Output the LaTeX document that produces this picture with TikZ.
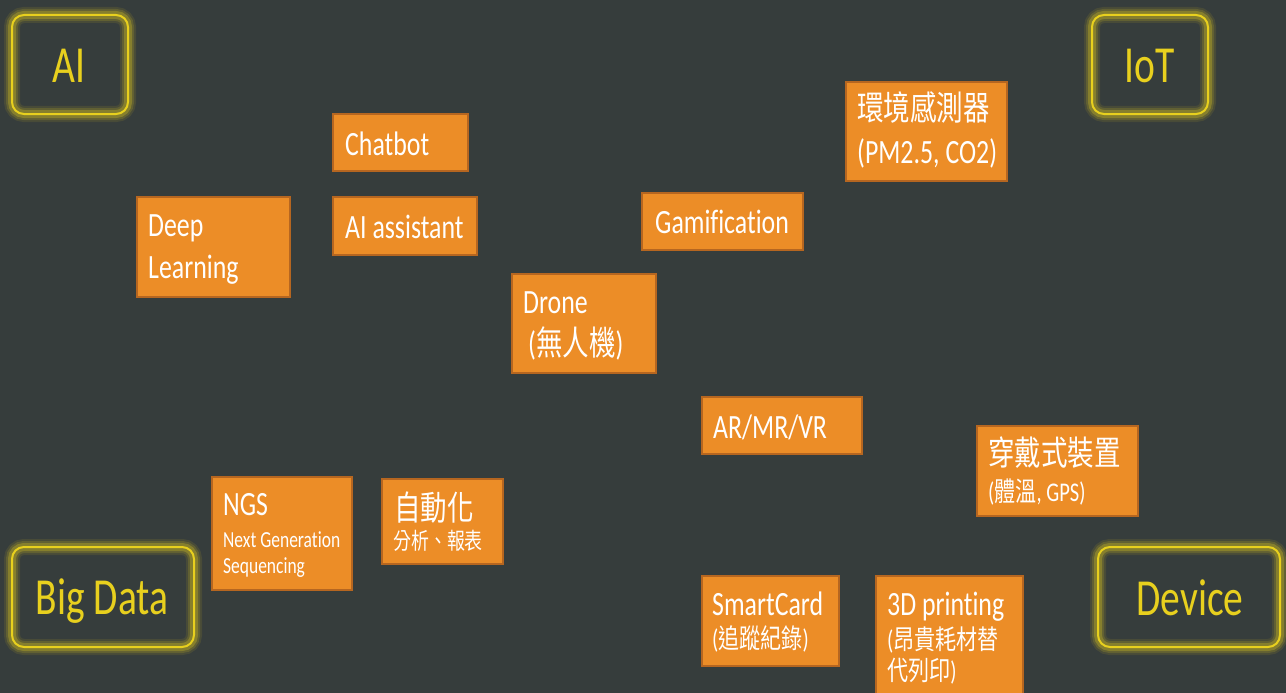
\documentclass[tikz,border=0pt]{standalone}
\usepackage{fontspec}
\setmainfont{Carlito}[FakeStretch=0.76, Ligatures=NoCommon]
\newfontfamily\cjk{Noto Sans CJK TC}[FakeStretch=0.78]
\definecolor{bgc}{RGB}{54,61,60}
\definecolor{ofill}{RGB}{236,141,39}
\definecolor{oborder}{RGB}{182,102,32}
\definecolor{yel}{RGB}{232,208,30}
\begin{document}
\begin{tikzpicture}[x=1pt,y=-1pt,
  obox/.style={draw=oborder, fill=ofill, line width=1.3pt, inner sep=0pt, rectangle},
  otext/.style={anchor=base west, inner sep=0pt, text=white, font=\fontsize{34}{40}\selectfont},
  omid/.style={otext, font=\fontsize{27}{32}\selectfont},
  osmall/.style={otext, font=\fontsize{23}{28}\selectfont},
  glowbox/.style={rectangle, rounded corners=12pt, draw=yel, line width=2pt, inner sep=0pt,
    preaction={draw=yel, line width=16pt, draw opacity=0.10},
    preaction={draw=yel, line width=12pt, draw opacity=0.16},
    preaction={draw=yel, line width=8pt, draw opacity=0.28}},
  gtext/.style={anchor=base, inner sep=0pt, text=yel, font=\fontsize{52}{60}\selectfont}]
\useasboundingbox (0,0) rectangle (1286,693);
\fill[bgc] (0,0) rectangle (1286,693);

% corner category boxes
\node[glowbox, minimum width=116, minimum height=99] (aibox) at (70,64.5) {};
\node[gtext] (ailabel) at (69,83) {AI};
\node[glowbox, minimum width=116, minimum height=99] (iotbox) at (1150,64.5) {};
\node[gtext] (iotlabel) at (1150,83) {IoT};
\node[glowbox, minimum width=182, minimum height=100] (bdbox) at (103,597) {};
\node[gtext] (bdlabel) at (102,614) {Big Data};
\node[glowbox, minimum width=182, minimum height=100] (devbox) at (1189,597) {};
\node[gtext] (devlabel) at (1190,615) {Device};

% orange boxes
\node[obox, minimum width=135, minimum height=57] (chatbot) at (400.5,142.5) {};
\node[otext] (chatbotT) at (345,155) {Chatbot};

\node[obox, minimum width=144, minimum height=58] (aiassist) at (405,226) {};
\node[otext] (aiassistT) at (345,238) {AI assistant};

\node[obox, minimum width=153, minimum height=100] (deep) at (213.5,247) {};
\node[otext] (deepT1) at (148,236) {Deep};
\node[otext] (deepT2) at (148,278) {Learning};

\node[obox, minimum width=161, minimum height=57] (gamif) at (722.5,221.5) {};
\node[otext] (gamifT) at (655,233) {Gamification};

\node[obox, minimum width=160, minimum height=57] (armr) at (782,425.5) {};
\node[otext] (armrT) at (713,438) {AR/MR/VR};

\node[obox, minimum width=144, minimum height=99] (drone) at (584,323.5) {};
\node[otext] (droneT1) at (523,313) {Drone};
\node[otext] (droneT2) at (528,355) {({\cjk 無人機})};

\node[obox, minimum width=161, minimum height=99] (env) at (926.5,131.5) {};
\node[otext] (envT1) at (857,121) {\cjk 環境感測器};
\node[otext] (envT2) at (857,163) {(PM2.5, CO2)};

\node[obox, minimum width=161, minimum height=90] (wear) at (1057.5,471) {};
\node[otext] (wearT1) at (988,465) {\cjk 穿戴式裝置};
\node[omid] (wearT2) at (988,501) {({\cjk 體溫}, GPS)};

\node[obox, minimum width=140, minimum height=113] (ngs) at (282,533.5) {};
\node[otext] (ngsT1) at (223,515) {NGS};
\node[osmall] (ngsT2) at (223,547) {Next Generation};
\node[osmall] (ngsT3) at (223,573) {Sequencing};

\node[obox, minimum width=121, minimum height=85] (auto) at (442.5,521.5) {};
\node[otext] (autoT1) at (394,520) {\cjk 自動化};
\node[osmall] (autoT2) at (393,549) {\cjk 分析、報表};

\node[obox, minimum width=137, minimum height=90] (smart) at (770.5,621) {};
\node[otext] (smartT1) at (712,615) {SmartCard};
\node[omid] (smartT2) at (712,648) {({\cjk 追蹤紀錄})};

\node[obox, minimum width=147, minimum height=134] (print) at (949.5,643) {};
\node[otext] (printT1) at (887,615) {3D printing};
\node[omid] (printT2) at (887,649) {({\cjk 昂貴耗材替}};
\node[omid] (printT3) at (887,680) {{\cjk 代列印})};
\end{tikzpicture}
\end{document}
